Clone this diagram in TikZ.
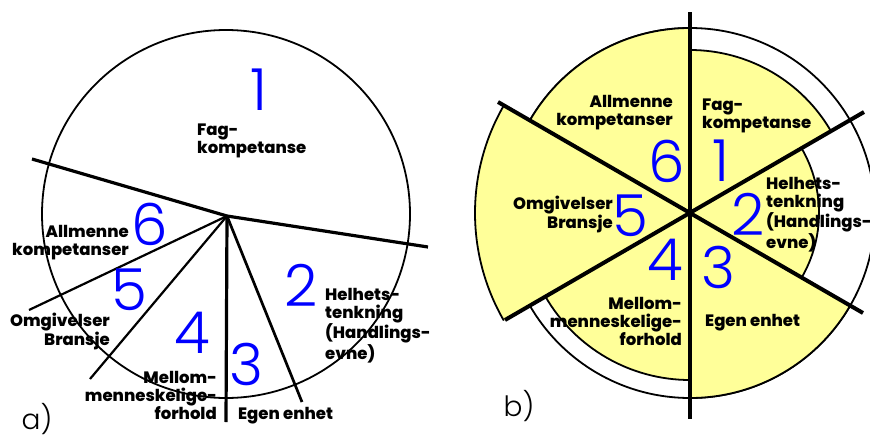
\documentclass[tikz,border=0pt]{standalone}
\usepackage{fontspec}
\newfontfamily\lblfont{Poppins}[UprightFont={* ExtraBold}]
\newfontfamily\numfont{Poppins Light}
\definecolor{numblue}{RGB}{0,0,255}
\definecolor{sectfill}{RGB}{255,255,153}
\usetikzlibrary{positioning}

\begin{document}
\begin{tikzpicture}[x=1pt,y=-1pt,
lbl/.style={font=\lblfont\fontsize{16.5}{18}\selectfont,inner sep=0pt},
num/.style={font=\numfont\fontsize{58}{58}\selectfont,text=numblue,inner sep=0pt},
tag/.style={font=\numfont\fontsize{28}{28}\selectfont,inner sep=0pt},
rim/.style={line width=1.8pt},
cut/.style={line width=3.2pt},
thincut/.style={line width=2.2pt},
sector/.style={fill=sectfill}]
\useasboundingbox (0,0) rectangle (870,439);
\fill[white] (0,0) rectangle (870,439);

% a)
\coordinate (Ha) at (227,216);
\draw[rim] (226,214) circle[radius=184];
\coordinate (A1) at (32,159);
\coordinate (A2) at (428,247);
\coordinate (A3) at (226,422);
\coordinate (A4) at (302,402);
\coordinate (A5) at (90,379);
\coordinate (A6) at (29,310);
\draw[cut] (A1)--(Ha)--(A2);
\draw[cut] (Ha)--(A3);
\draw[line width=2.7pt] (Ha)--(A4);
\draw[thincut] (Ha)--(A5);
\draw[thincut] (Ha)--(A6);

\node[num] (a1) at (259,90) {1};
\node[num] (a2) at (301,285) {2};
\node[num] (a3) at (246,364) {3};
\node[num] (a4) at (192,333) {4};
\node[num] (a5) at (129,290) {5};
\node[num] (a6) at (150,224) {6};
\node[lbl,anchor=base west,align=left] (a1t) at (197,153) {Fag-\\kompetanse};
\node[lbl,anchor=base west,align=left] (a2t) at (325,359) {Helhets-\\tenkning\\(Handlings-\\evne)};
\node[lbl,anchor=base west] (a3t) at (238,419) {Egen enhet};
\node[lbl,anchor=base east,align=right] (a4t) at (217,419) {Mellom-\\menneskelige-\\forhold};
\node[lbl,anchor=base east,align=right] (a5t) at (110,345) {Omgivelser\\Bransje};
\node[lbl,anchor=base east,align=right] (a6t) at (129,255) {Allmenne\\kompetanser};
\node[tag] (ta) at (37,419) {a)};

% b)
\coordinate (Hb) at (690,213);
\draw[rim] (Hb) circle[radius=185];
\foreach \s/\e/\r in {-90/-150/185,-30/-90/163,30/-30/129,90/30/185,150/90/167,210/150/215}
{
\fill[sector] (Hb)--++(\s:\r) arc[start angle=\s,end angle=\e,radius=\r]--cycle;
\draw[rim] (Hb) ++(\s:\r) arc[start angle=\s,end angle=\e,radius=\r];
}
\coordinate (B1) at (498,102);
\coordinate (B2) at (863,313);
\coordinate (B3) at (864,112);
\coordinate (B4) at (505,320);
\coordinate (B5) at (690,12);
\coordinate (B6) at (690,419);
\draw[line width=4pt] (B1)--(B2);
\draw[line width=4pt] (B3)--(B4);
\draw[line width=3.4pt] (B5)--(B6);

\node[num] (b1) at (721,161) {1};
\node[num] (b2) at (748,214) {2};
\node[num] (b3) at (718,267) {3};
\node[num] (b4) at (665,260) {4};
\node[num] (b5) at (630,216) {5};
\node[num] (b6) at (667,161) {6};
\node[lbl,anchor=base west,align=left] (b1t) at (702,128) {Fag-\\kompetanse};
\node[lbl,anchor=base west,align=left] (b2t) at (766,248) {Helhets-\\tenkning\\(Handlings-\\evne)};
\node[lbl,anchor=base west] (b3t) at (705,326) {Egen enhet};
\node[lbl,anchor=base east,align=right] (b4t) at (682,345) {Mellom-\\menneskelige-\\forhold};
\node[lbl,anchor=base east,align=right] (b5t) at (613,228) {Omgivelser\\Bransje};
\node[lbl,anchor=base east,align=right] (b6t) at (673,125) {Allmenne\\kompetanser};
\node[tag] (tb) at (519,406) {b)};
\end{tikzpicture}
\end{document}
